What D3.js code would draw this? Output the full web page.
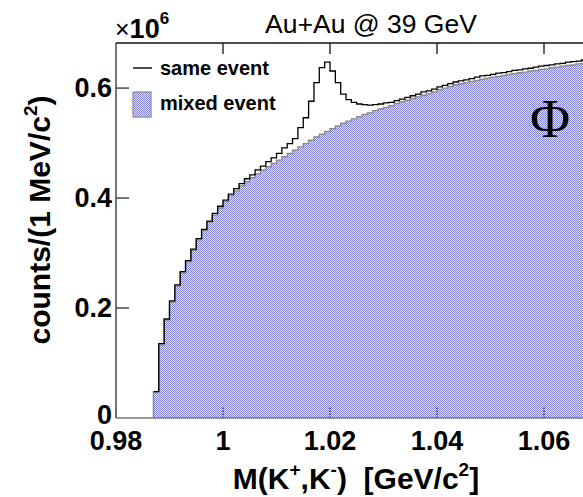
<!DOCTYPE html>
<meta charset='utf-8'>
<style>
  body { margin: 0; background: #fff; }
  svg { display: block; font-family: "Liberation Sans", Arial, sans-serif; }
  .tick-label { font-weight: bold; font-size: 27px; }
</style>
<body>
<div id="viz"></div>
<script src="https://cdn.jsdelivr.net/npm/d3@7"></script>
<script>

// K+K- invariant mass, 1 MeV bins starting at threshold (units of 1e6 counts)
var binStart = 0.987
var binWidth = 0.001

var mixedCounts = [
  0.047, 0.133, 0.178, 0.211, 0.240, 0.264, 0.284, 0.305, 0.324, 0.341,
  0.356, 0.369, 0.382, 0.393, 0.404, 0.413, 0.422, 0.430, 0.437, 0.444,
  0.451, 0.457, 0.463, 0.469, 0.475, 0.481, 0.487, 0.493, 0.499, 0.505,
  0.511, 0.516, 0.521, 0.526, 0.531, 0.536, 0.540, 0.544, 0.548, 0.552,
  0.555, 0.559, 0.562, 0.565, 0.568, 0.572, 0.575, 0.578, 0.581, 0.584,
  0.587, 0.590, 0.593, 0.597, 0.600, 0.603, 0.606, 0.608, 0.610, 0.612,
  0.614, 0.616, 0.618, 0.620, 0.621, 0.623, 0.625, 0.626, 0.628, 0.629,
  0.631, 0.632, 0.634, 0.635, 0.637, 0.638, 0.640, 0.641, 0.642, 0.644,
  0.645, 0.646, 0.647
]

var sameCounts = [
  0.047, 0.134, 0.179, 0.212, 0.241, 0.265, 0.285, 0.306, 0.325, 0.342,
  0.357, 0.371, 0.384, 0.395, 0.406, 0.416, 0.425, 0.434, 0.441, 0.450,
  0.457, 0.465, 0.472, 0.480, 0.490, 0.498, 0.507, 0.527, 0.545, 0.575,
  0.609, 0.636, 0.646, 0.630, 0.609, 0.588, 0.578, 0.573, 0.570, 0.569,
  0.568, 0.569, 0.570, 0.572, 0.573, 0.576, 0.579, 0.582, 0.585, 0.588,
  0.592, 0.594, 0.597, 0.601, 0.604, 0.607, 0.610, 0.612, 0.614, 0.616,
  0.619, 0.621, 0.622, 0.624, 0.626, 0.627, 0.629, 0.631, 0.632, 0.634,
  0.635, 0.637, 0.639, 0.640, 0.641, 0.643, 0.644, 0.646, 0.647, 0.648,
  0.650, 0.651, 0.652
]

var xTicks = [0.98, 1, 1.02, 1.04, 1.06]
var xTickLabels = ['0.98', '1', '1.02', '1.04', '1.06']
var yTicks = [0, 0.2, 0.4, 0.6]
var yTickLabels = ['0', '0.2', '0.4', '0.6']

var width = 583, height = 497
var margin = {left: 116, top: 43}
var plotW = 535, plotH = 375

var svg = d3.select('#viz').append('svg')
  .attr('width', width).attr('height', height)

var x = d3.scaleLinear().domain([0.98, 1.08]).range([margin.left, margin.left + plotW])
var y = d3.scaleLinear().domain([0, 0.682]).range([margin.top + plotH, margin.top])

// ROOT-like dotted fill
var pat = svg.append('defs').append('pattern')
  .attr('id', 'dots').attr('width', 2).attr('height', 2)
  .attr('patternUnits', 'userSpaceOnUse')
pat.append('rect').attr('width', 2).attr('height', 2).attr('fill', '#e2e2fa')
pat.append('rect').attr('width', 1).attr('height', 1).attr('fill', '#8282e6')
pat.append('rect').attr('x', 1).attr('y', 1).attr('width', 1).attr('height', 1).attr('fill', '#8282e6')

function toSteps(counts) {
  var pts = counts.map(function(c, i) { return {m: binStart + i * binWidth, c: c} })
  pts.push({m: binStart + counts.length * binWidth, c: counts[counts.length - 1]})
  return pts
}
var mixed = toSteps(mixedCounts)
var same = toSteps(sameCounts)

var area = d3.area().curve(d3.curveStepAfter)
  .x(function(d) { return x(d.m) }).y0(y(0)).y1(function(d) { return y(d.c) })
var line = d3.line().curve(d3.curveStepAfter)
  .x(function(d) { return x(d.m) }).y(function(d) { return y(d.c) })

var tickLen = 11

svg.append('path').datum(mixed)
  .attr('d', area).attr('fill', 'url(#dots)')
svg.append('path').datum(mixed)
  .attr('d', d => 'M' + x(binStart) + ',' + y(0) + 'L' + line(d).slice(1))
  .attr('fill', 'none').attr('stroke', '#8a8a8a').attr('stroke-width', 1.4)

svg.append('path').datum(same)
  .attr('d', line).attr('fill', 'none').attr('stroke', '#000').attr('stroke-width', 1.3)
  .attr('transform', 'translate(0,-0.6)')

// bottom ticks show through the fill as dots
svg.append('g').selectAll('line').data(xTicks).join('line')
  .attr('x1', d => x(d)).attr('x2', d => x(d))
  .attr('y1', y(0)).attr('y2', y(0) - tickLen)
  .attr('stroke', '#1a1a6a').attr('stroke-width', 1.3).attr('stroke-dasharray', '1.5,1.5')

// frame
svg.append('line').attr('x1', x(0.98)).attr('x2', x(1.08)).attr('y1', y(0)).attr('y2', y(0))
  .attr('stroke', '#777').attr('stroke-width', 1.6)
svg.append('line').attr('x1', x(0.98)).attr('x2', x(0.98)).attr('y1', y(0)).attr('y2', margin.top)
  .attr('stroke', '#666').attr('stroke-width', 1.8)
svg.append('line').attr('x1', x(0.98)).attr('x2', x(1.08)).attr('y1', margin.top).attr('y2', margin.top)
  .attr('stroke', '#111').attr('stroke-width', 1.6)

svg.append('g').selectAll('line').data(xTicks.slice(1)).join('line')
  .attr('x1', d => x(d)).attr('x2', d => x(d))
  .attr('y1', margin.top).attr('y2', margin.top + tickLen)
  .attr('stroke', '#111').attr('stroke-width', 1.3)

svg.append('g').selectAll('line').data(yTicks.slice(1)).join('line')
  .attr('x1', x(0.98)).attr('x2', x(0.98) + 13)
  .attr('y1', d => y(d)).attr('y2', d => y(d))
  .attr('stroke', '#555').attr('stroke-width', 1.6)

// tick labels
svg.append('g').selectAll('text').data(xTicks).join('text')
  .attr('class', 'tick-label')
  .attr('x', d => x(d)).attr('y', 450)
  .attr('text-anchor', 'middle')
  .text((d, i) => xTickLabels[i])

svg.append('g').selectAll('text').data(yTicks).join('text')
  .attr('class', 'tick-label')
  .attr('x', 112).attr('y', d => d === 0 ? y(d) + 6 : y(d) + 9)
  .attr('text-anchor', 'end')
  .text((d, i) => yTickLabels[i])

// exponent
var expo = svg.append('text').attr('x', 115).attr('y', 38)
expo.append('tspan').attr('font-size', 25).text('×')
expo.append('tspan').attr('font-size', 27).attr('font-weight', 'bold').text('10')
expo.append('tspan').attr('font-size', 17).attr('font-weight', 'bold').attr('dy', -14).text('6')

// title
svg.append('text').attr('x', 371).attr('y', 33)
  .attr('text-anchor', 'middle').attr('font-size', 26.5)
  .text('Au+Au @ 39 GeV')

// axis titles
var xt = svg.append('text').attr('x', 356).attr('y', 489)
  .attr('text-anchor', 'middle').attr('font-size', 30).attr('font-weight', 'bold')
xt.append('tspan').text('M(K')
xt.append('tspan').attr('font-size', 19).attr('dy', -13).text('+')
xt.append('tspan').attr('dy', 13).text(',K')
xt.append('tspan').attr('font-size', 19).attr('dy', -13).text('-')
xt.append('tspan').attr('dy', 13).attr('xml:space', 'preserve').text(')  [GeV/c')
xt.append('tspan').attr('font-size', 19).attr('dy', -13).text('2')
xt.append('tspan').attr('dy', 13).text(']')

var yt = svg.append('text')
  .attr('transform', 'translate(50,220) rotate(-90)')
  .attr('text-anchor', 'middle').attr('font-size', 30).attr('font-weight', 'bold')
yt.append('tspan').text('counts/(1 MeV/c')
yt.append('tspan').attr('font-size', 19).attr('dy', -13).text('2')
yt.append('tspan').attr('dy', 13).text(')')

// legend
var lg = svg.append('g').attr('font-size', 20).attr('font-weight', 'bold')
lg.append('line').attr('x1', 133).attr('x2', 152).attr('y1', 68).attr('y2', 68)
  .attr('stroke', '#000').attr('stroke-width', 1.4)
lg.append('text').attr('x', 160).attr('y', 75).text('same event')
lg.append('rect').attr('x', 133).attr('y', 92).attr('width', 18).attr('height', 25)
  .attr('fill', 'url(#dots)').attr('stroke', '#888').attr('stroke-width', 1.2)
lg.append('text').attr('x', 160).attr('y', 110).text('mixed event')

// particle label
svg.append('text').attr('x', 550).attr('y', 137)
  .attr('text-anchor', 'middle').attr('font-size', 55)
  .attr('font-family', '"Liberation Serif", serif')
  .text('Φ')

</script>
</body>
